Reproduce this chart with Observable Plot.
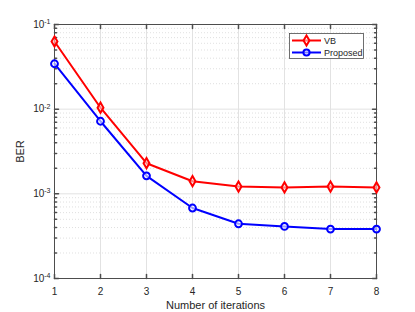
<!DOCTYPE html>
<html><head><meta charset="utf-8">
<script src="https://cdn.jsdelivr.net/npm/d3@7"></script>
<script src="https://cdn.jsdelivr.net/npm/@observablehq/plot@0.6"></script>
<style>
body{margin:0;background:#fff;font-family:"Liberation Sans",Arial,sans-serif;}
#wrap{position:relative;width:415px;height:312px;}
#legend{position:absolute;left:0;top:0;}
</style></head>
<body><div id="wrap"></div>
<script>
const iterations = [1, 2, 3, 4, 5, 6, 7, 8];
const vbBER = [0.063, 0.0104, 0.0023, 0.00141, 0.00122, 0.00119, 0.00122, 0.00119];
const proposedBER = [0.0344, 0.0072, 0.00163, 0.00068, 0.000443, 0.000412, 0.000383, 0.000383];
const seriesNames = ["VB", "Proposed"];
const seriesColors = ["#ff0000", "#0000ff"];
const seriesSymbols = ["diamond", "circle"];
const yMajor = [1e-4, 1e-3, 1e-2, 1e-1];
const yTickLabels = ["10^-4", "10^-3", "10^-2", "10^-1"];

const data = [];
iterations.forEach((it, i) => {
  data.push({series: seriesNames[0], it, ber: vbBER[i]});
  data.push({series: seriesNames[1], it, ber: proposedBER[i]});
});
const yMinor = [];
for (let k = -4; k < -1; k++) for (let m = 2; m <= 9; m++) yMinor.push(m * Math.pow(10, k));

const tickShape = {draw(ctx, l) { ctx.moveTo(0, 0); ctx.lineTo(0, -l); }};
const axisColor = "#4d4d4d";

const chart = Plot.plot({
  width: 415, height: 312,
  marginLeft: 54, marginRight: 39, marginTop: 24, marginBottom: 34,
  style: {fontFamily: '"Liberation Sans", Arial, sans-serif', fontSize: "10px", color: "#262626", background: "#fff"},
  x: {domain: [1, 8]},
  y: {type: "log", domain: [1e-4, 1e-1]},
  color: {domain: seriesNames, range: seriesColors},
  symbol: {domain: seriesNames, range: seriesSymbols},
  marks: [
    Plot.ruleY(yMinor, {stroke: "#d2d2d2", strokeWidth: 0.7, strokeDasharray: "1,2"}),
    Plot.ruleY(yMajor, {stroke: "#e2e2e2", strokeWidth: 1}),
    Plot.ruleX(iterations, {stroke: "#e2e2e2", strokeWidth: 1}),
    Plot.frame({stroke: axisColor, strokeWidth: 1}),
    Plot.vector(iterations, {x: d => d, y: 1e-4, length: 4, rotate: 0, anchor: "start", shape: tickShape, stroke: axisColor}),
    Plot.vector(iterations, {x: d => d, y: 1e-1, length: 4, rotate: 180, anchor: "start", shape: tickShape, stroke: axisColor}),
    Plot.vector(yMajor, {x: 1, y: d => d, length: 4, rotate: 90, anchor: "start", shape: tickShape, stroke: axisColor}),
    Plot.vector(yMajor, {x: 8, y: d => d, length: 4, rotate: -90, anchor: "start", shape: tickShape, stroke: axisColor}),
    Plot.vector(yMinor, {x: 1, y: d => d, length: 2, rotate: 90, anchor: "start", shape: tickShape, stroke: axisColor}),
    Plot.vector(yMinor, {x: 8, y: d => d, length: 2, rotate: -90, anchor: "start", shape: tickShape, stroke: axisColor}),
    Plot.axisX({ticks: iterations, tickSize: 0, tickPadding: 9, tickFormat: d => String(d),
      label: "Number of iterations", labelAnchor: "center", labelArrow: "none", labelOffset: 30, fontSize: 10}),
    Plot.axisY({ticks: yMajor, tickSize: 0, tickPadding: 4,
      tickFormat: d => yTickLabels[yMajor.indexOf(d)],
      label: "BER", labelAnchor: "center", labelArrow: "none", labelOffset: 38, fontSize: 10}),
    Plot.line(data, {x: "it", y: "ber", z: "series", stroke: "series", strokeWidth: 2}),
    Plot.dot(data.filter(d => d.series === "VB"), {x: "it", y: "ber", symbol: "series", stroke: "series", fill: "white", fillOpacity: 0.5, strokeWidth: 2, r: 3.1}),
    Plot.dot(data.filter(d => d.series === "Proposed"), {x: "it", y: "ber", symbol: "series", stroke: "series", fill: "white", fillOpacity: 0.6, strokeWidth: 2, r: 3.4})
  ]
});

// superscript exponents on y tick labels
d3.select(chart).selectAll("text").each(function() {
  const t = this.textContent;
  const m = /^10\^(.+)$/.exec(t);
  if (m) {
    const sel = d3.select(this);
    sel.text("");
    sel.append("tspan").text("10");
    sel.append("tspan").attr("dy", "-0.55em").attr("font-size", "7px").text(m[1]);
  }
});
d3.select(chart).selectAll("[aria-label='x-axis label'] text, [aria-label='y-axis label'] text").attr("font-size", "11px");

const wrap = document.getElementById("wrap");
wrap.appendChild(chart);

// legend overlay
const lg = d3.select(wrap).append("svg").attr("id", "legend").attr("width", 415).attr("height", 312);
lg.append("rect").attr("x", 289.5).attr("y", 33.5).attr("width", 74).attr("height", 25)
  .attr("fill", "#fff").attr("stroke", axisColor).attr("stroke-width", 0.8);
seriesNames.forEach((name, i) => {
  const y = 40.5 + i * 12;
  lg.append("line").attr("x1", 292).attr("x2", 321).attr("y1", y).attr("y2", y)
    .attr("stroke", seriesColors[i]).attr("stroke-width", 2);
  const sym = d3.symbol(i === 0 ? d3.symbolDiamond : d3.symbolCircle, i === 0 ? 30 : 30)();
  lg.append("path").attr("d", sym).attr("transform", `translate(306.5,${y})`)
    .attr("fill", "white").attr("fill-opacity", 0.5).attr("stroke", seriesColors[i]).attr("stroke-width", 2);
  lg.append("text").attr("x", 324).attr("y", y).attr("dy", "0.35em")
    .attr("font-size", "9px").attr("fill", "#262626")
    .attr("font-family", '"Liberation Sans", Arial, sans-serif').text(name);
});
</script></body></html>
